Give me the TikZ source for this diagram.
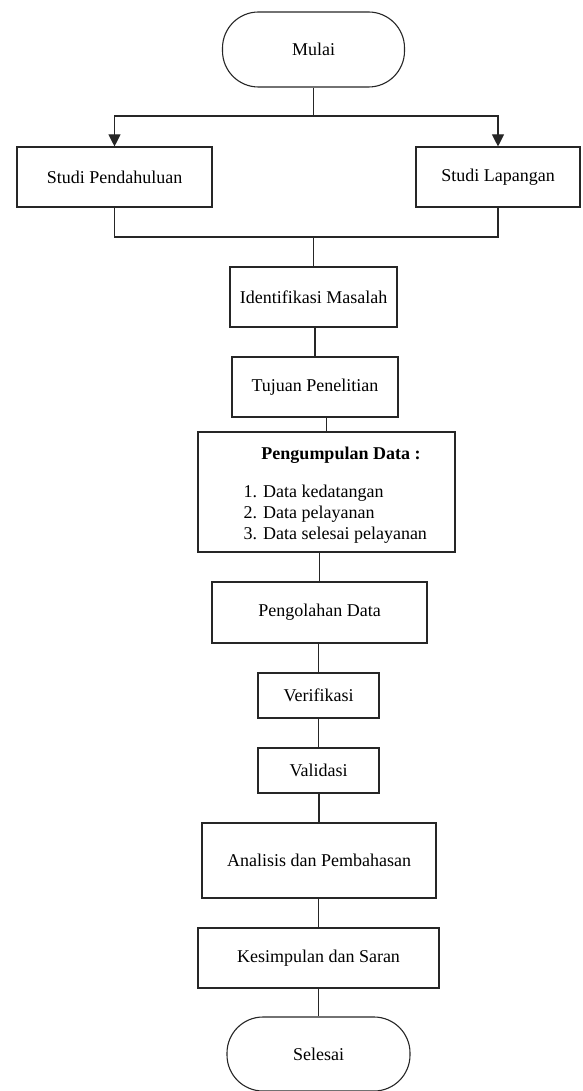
\documentclass[tikz,border=0pt]{standalone}
\usepackage{fontspec}
\setmainfont{Liberation Serif}
\usetikzlibrary{arrows.meta, positioning, calc}

\begin{document}
\begin{tikzpicture}[x=1pt,y=-1pt,
	line width=1.1pt, font=\fontsize{18}{21}\selectfont,
	box/.style={draw=black!85, inner sep=0pt},
	terminal/.style={draw=black!85, rounded corners=36pt, inner sep=0pt, minimum width=182pt},
	link/.style={draw=black!85},
	arr/.style={draw=black!85, -{Triangle[length=12pt,width=12pt]}}]
			\useasboundingbox (0,0) rectangle (582,1091);
			% start and the two studies
			\node[terminal,minimum height=75pt] (mulai) at (313.5,49.5) {Mulai};
			\node[box,minimum width=195pt,minimum height=60pt] (studiP) at (114.5,177) {Studi Pendahuluan};
			\node[box,minimum width=164pt,minimum height=60pt] (studiL) at (498,177) {Studi Lapangan};
			% main column
			\node[box,minimum width=167pt,minimum height=60pt] (ident) at (313.5,297) {Identifikasi Masalah};
			\node[box,minimum width=166pt,minimum height=60pt] (tujuan) at (315,387) {Tujuan Penelitian};
			\node[box,minimum width=257pt,minimum height=120pt] (kumpul) at (326.5,492) {};
			\node (kumpulT) at (341,455) {\textbf{Pengumpulan Data :}};
			\node[anchor=west,align=left,inner sep=0pt] (kumpulL) at (243,514) {1. Data kedatangan\\2. Data pelayanan\\3. Data selesai pelayanan};
			\node[box,minimum width=215pt,minimum height=61pt] (olah) at (319.5,612.5) {Pengolahan Data};
			\node[box,minimum width=121pt,minimum height=45pt] (verif) at (318.5,695.5) {Verifikasi};
			\node[box,minimum width=121pt,minimum height=45pt] (valid) at (318.5,770.5) {Validasi};
			\node[box,minimum width=234pt,minimum height=75pt] (analisis) at (319,860.5) {Analisis dan Pembahasan};
			\node[box,minimum width=241pt,minimum height=60pt] (simpul) at (318.5,958) {Kesimpulan dan Saran};
			\node[terminal,minimum width=183pt,minimum height=74pt] (selesai) at (318.5,1054) {Selesai};
			% branch points
			\coordinate (split) at ($(mulai.south)+(0,28.5)$);
			\coordinate (join) at (ident.north |- 0,237);
			\draw[link] (mulai.south) -- (split);
			\draw[arr] (split) -| (studiP.north);
			\draw[arr] (split) -| (studiL.north);
			\draw[link] (studiP.south) |- (join) -| (studiL.south);
			\draw[link] (join) -- (ident.north);
			% plain links down the column
			\foreach \a/\b in {ident/tujuan, tujuan/kumpul, kumpul/olah, olah/verif, verif/valid, valid/analisis, analisis/simpul, simpul/selesai}
				\draw[link] (\a.south -| \b.north) -- (\b.north);
\end{tikzpicture}
\end{document}
